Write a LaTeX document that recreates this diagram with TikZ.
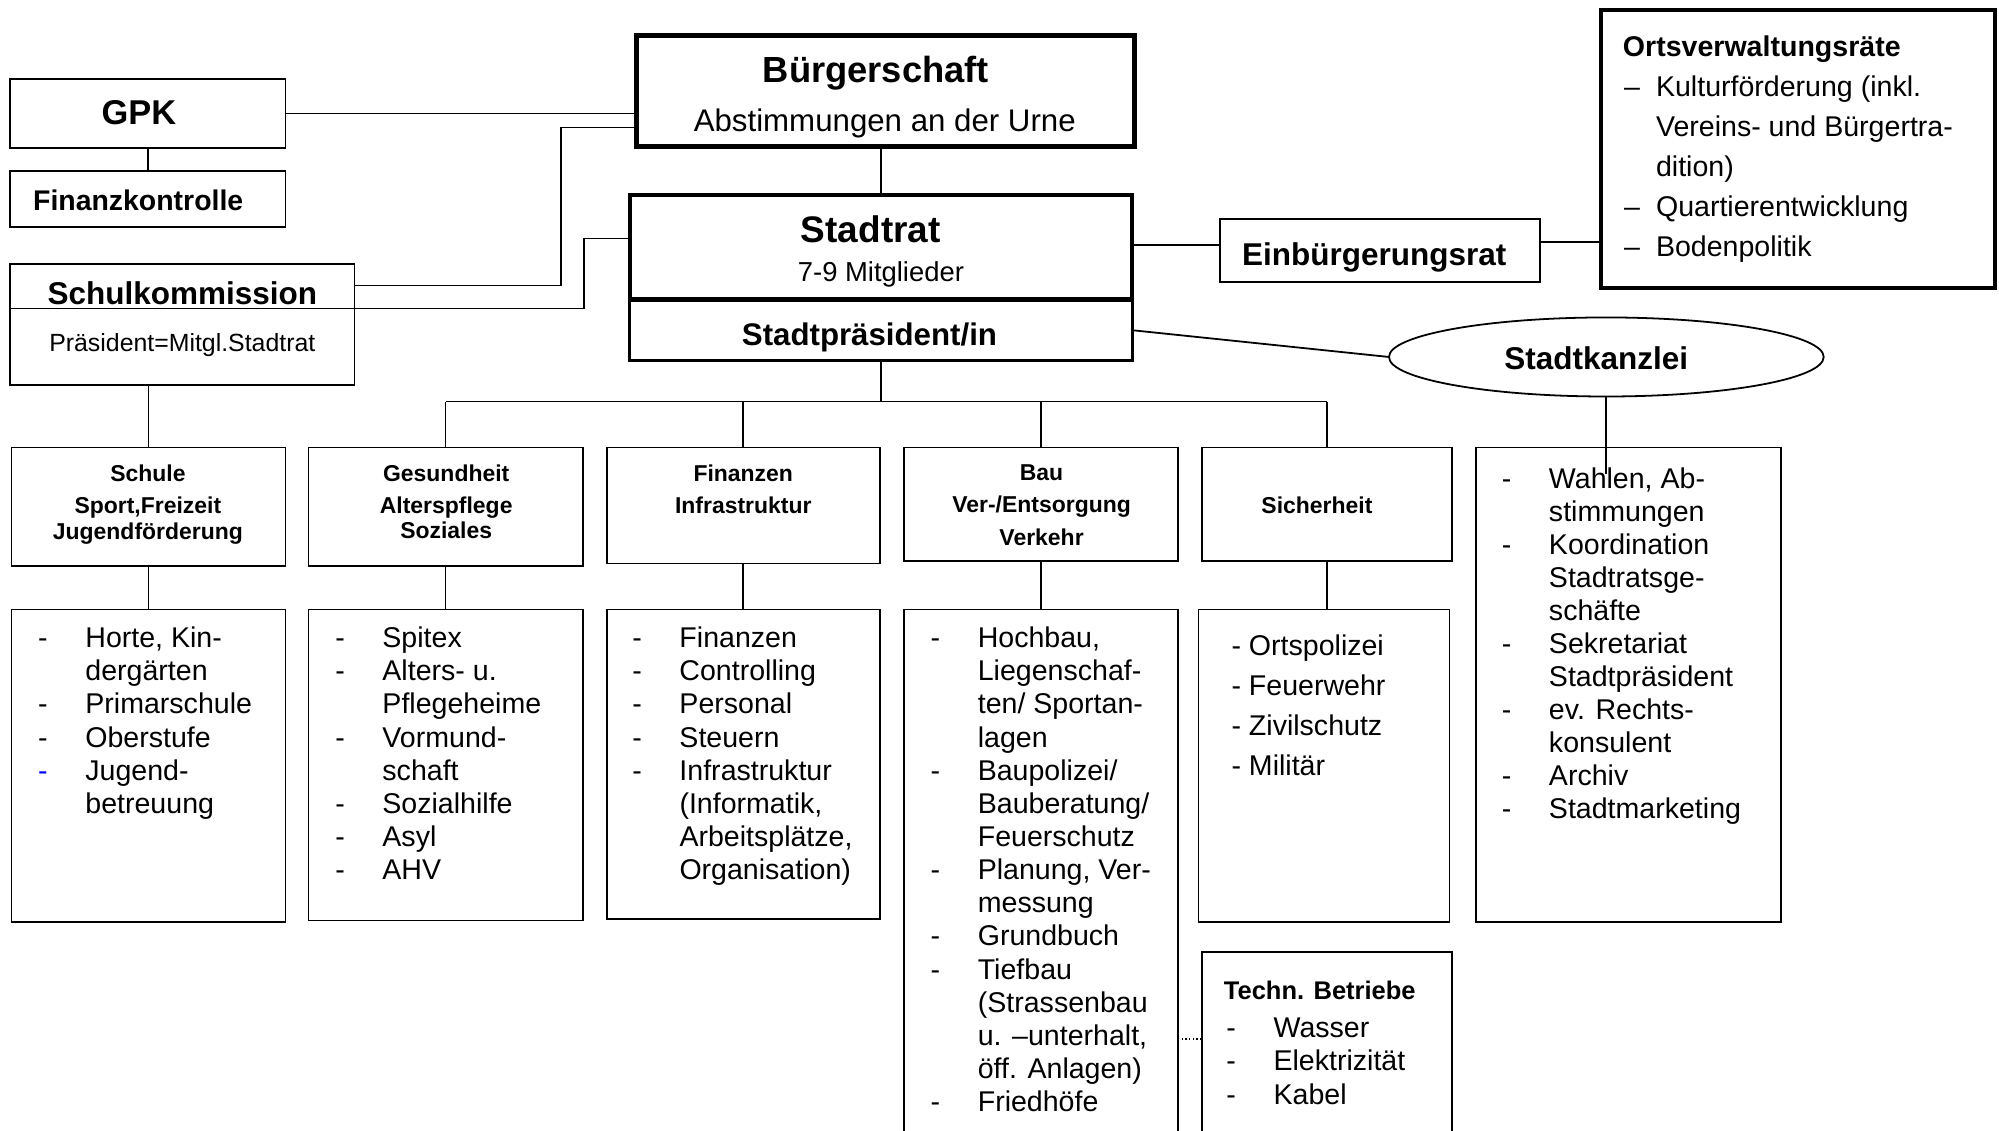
\documentclass[tikz,border=0pt]{standalone}
\usepackage{fontspec}
\setmainfont{Liberation Sans}
\usetikzlibrary{shapes.geometric}
\newcommand\fs[2]{\fontsize{#1}{#2}\selectfont}
\newcommand\mybox[6][]{\node[boxst,minimum width={#5-#3},minimum height={#6-#4},#1] (#2) at ({(#3+#5)/2},{(#4+#6)/2}) {};}
\newcommand\dl[1]{\begin{tabular}[t]{@{}p{37pt}@{}l@{}}#1\end{tabular}}
\newcommand\ol[1]{\begin{tabular}[t]{@{}p{25pt}@{}l@{}}#1\end{tabular}}
\newcommand\hd[1]{\begin{tabular}[t]{@{}c@{}}#1\end{tabular}}
\begin{document}
\begin{tikzpicture}[x=1pt,y=-1pt,line width=1.4pt,
  boxst/.style={draw,inner sep=0pt,outer sep=0pt,line width=1.4pt},
  txt/.style={inner sep=0pt,outer sep=0pt},
  conn/.style={line width=1.4pt}]
\useasboundingbox (0,0) rectangle (1568,887);
\clip (0,0) rectangle (1568,887);
% boxes
\mybox[line width=2.2pt]{sp}{494}{235}{888}{283}
\mybox[line width=3.6pt]{st}{494}{153}{888}{235}
\mybox[line width=3.7pt]{bg}{499}{28}{890}{115}
\mybox{gpk}{8}{62}{224}{116}
\mybox{fk}{8}{134}{224}{178}
\mybox{sk}{8}{207}{278}{302}
\mybox{er}{957}{172}{1208}{221}
\mybox[line width=3pt]{ov}{1256}{8}{1565}{226}
\node[draw,ellipse,inner sep=0pt,outer sep=0pt,line width=1.4pt,minimum width=341,minimum height=62] (kz) at (1260,280) {};
\mybox{schule}{9}{351}{224}{444}
\mybox{ges}{242}{351}{457}{444}
\mybox{fin}{476}{351}{690}{442}
\mybox{bau}{709}{351}{924}{440}
\mybox{sich}{943}{351}{1139}{440}
\mybox{schl}{9}{478}{224}{723}
\mybox{gesl}{242}{478}{457}{722}
\mybox{finl}{476}{478}{690}{721}
\mybox{baul}{709}{478}{924}{900}
\mybox{sichl}{940}{478}{1137}{723}
\mybox{tb}{943}{747}{1139}{900}
\mybox{kzl}{1158}{351}{1397}{723}
% junction coordinates
\coordinate (j1) at (440,224);
\coordinate (j2) at (440,100);
\coordinate (j3) at (458,242);
\coordinate (j4) at (458,187);
\coordinate (bus) at (691,315);
% connectors
\draw[conn] (gpk.east) -- (gpk.east -| bg.west);
\draw[conn] (gpk.south) -- (fk.north);
\draw[conn] (sk.east |- j1) -- (j1) -- (j2) -- (bg.west |- j2);
\draw[conn] (sk.west |- j3) -- (j3) -- (j4) -- (st.west |- j4);
\draw[conn] (bg.south -| st.north) -- (st.north);
\draw[conn] (st.east |- 0,192) -- (er.west |- 0,192);
\draw[conn] (er.east |- 0,190) -- (ov.west |- 0,190);
\draw[conn] (sp.east) -- (kz.west);
\draw[conn] (kz.south) -- (kz.south |- 0,372);
\draw[conn] (sp.south) -- (bus);
\draw[conn] (ges.north |- bus) -- (sich.north |- bus);
\foreach \n in {ges,fin,bau,sich}{\draw[conn] (\n.north) -- (\n.north |- bus);}
\draw[conn] (schule.north) -- (schule.north |- sk.south);
\draw[conn] (schule.south) -- (schule.south |- schl.north);
\draw[conn] (ges.south) -- (ges.south |- gesl.north);
\draw[conn] (fin.south) -- (fin.south |- finl.north);
\draw[conn] (bau.south) -- (bau.south |- baul.north);
\draw[conn] (sich.south) -- (sich.south |- sichl.north);
\draw[dotted,line width=0.9pt] (baul.east |- 0,815) -- (tb.west |- 0,815);
% texts top
\node[txt,anchor=base,font=\fs{28.5}{30}\bfseries] (bgt) at (687,65) {Bürgerschaft};
\node[txt,anchor=base,font=\fs{24.5}{26}] (bgs) at (694,103) {Abstimmungen an der Urne};
\node[txt,anchor=base,font=\fs{27}{28}\bfseries] (gpkt) at (109,98) {GPK};
\node[txt,anchor=base west,font=\fs{22.3}{24}\bfseries] (fkt) at (26,165) {Finanzkontrolle};
\node[txt,anchor=base,font=\fs{24.7}{26}\bfseries] (skt) at (143,239) {Schulkommission};
\node[txt,anchor=base,font=\fs{19.5}{22}] (sks) at (143,276) {Präsident=Mitgl.Stadtrat};
\node[txt,anchor=base,font=\fs{29}{30}\bfseries] (stt) at (683,190) {Stadtrat};
\node[txt,anchor=base,font=\fs{21.5}{24}] (sts) at (691,221) {7-9 Mitglieder};
\node[txt,anchor=base,font=\fs{24.5}{26}\bfseries] (spt) at (682,271) {Stadtpräsident/in};
\node[txt,anchor=base,font=\fs{24.7}{26}\bfseries] (ert) at (1078,208) {Einbürgerungsrat};
\node[txt,anchor=base west,font=\fs{22.4}{24}\bfseries] (ovt) at (1273,44) {Ortsverwaltungsräte};
\node[txt,anchor=base west,font=\fs{22.4}{31.25}] (ovl) at (1274,76) {\ol{–&Kulturförderung (inkl.\\&Vereins- und Bürgertra-\\&dition)\\–&Quartierentwicklung\\–&Bodenpolitik}};
\node[txt,anchor=base,font=\fs{24.7}{26}\bfseries] (kzt) at (1252,290) {Stadtkanzlei};
% department headings
\node[txt,anchor=base,font=\fs{18}{25}\bfseries] (schulet) at (116,377.5) {\hd{Schule\\Sport,Freizeit\\[-4pt]Jugendförderung}};
\node[txt,anchor=base,font=\fs{18}{25}\bfseries] (gest) at (350,377.5) {\hd{Gesundheit\\Alterspflege\\[-5pt]Soziales}};
\node[txt,anchor=base,font=\fs{18}{25}\bfseries] (fint) at (583,377.5) {\hd{Finanzen\\Infrastruktur}};
\node[txt,anchor=base,font=\fs{18}{25.5}\bfseries] (baut) at (817,376.5) {\hd{Bau\\Ver-/Entsorgung\\Verkehr}};
\node[txt,anchor=base,font=\fs{18}{25}\bfseries] (sicht) at (1033,402.5) {Sicherheit};
% lists
\node[txt,anchor=base west,font=\fs{22.4}{26}] (schlt) at (30,508) {\dl{-&Horte, Kin-\\&dergärten\\-&Primarschule\\-&Oberstufe\\\textcolor{blue}{-}&Jugend-\\&betreuung}};
\node[txt,anchor=base west,font=\fs{22.4}{26}] (geslt) at (263,508) {\dl{-&Spitex\\-&Alters- u.\\&Pflegeheime\\-&Vormund-\\&schaft\\-&Sozialhilfe\\-&Asyl\\-&AHV}};
\node[txt,anchor=base west,font=\fs{22.4}{26}] (finlt) at (496,508) {\dl{-&Finanzen\\-&Controlling\\-&Personal\\-&Steuern\\-&Infrastruktur\\&(Informatik,\\&Arbeitsplätze,\\&Organisation)}};
\node[txt,anchor=base west,font=\fs{22.4}{26}] (bault) at (730,508) {\dl{-&Hochbau,\\&Liegenschaf-\\&ten/ Sportan-\\&lagen\\-&Baupolizei/\\&Bauberatung/\\&Feuerschutz\\-&Planung, Ver-\\&messung\\-&Grundbuch\\-&Tiefbau\\&(Strassenbau\\&u. –unterhalt,\\&öff. Anlagen)\\-&Friedhöfe}};
\node[txt,anchor=base west,font=\fs{22.4}{31.3},align=left] (sichlt) at (966,514) {\begin{tabular}[t]{@{}l@{}}- Ortspolizei\\- Feuerwehr\\- Zivilschutz\\- Militär\end{tabular}};
\node[txt,anchor=base west,font=\fs{20}{24}\bfseries] (tbt) at (960,784) {Techn. Betriebe};
\node[txt,anchor=base west,font=\fs{22.4}{26}] (tblt) at (962,814) {\dl{-&Wasser\\-&Elektrizität\\-&Kabel}};
\node[txt,anchor=base west,font=\fs{22.4}{25.9}] (kzlt) at (1178,383) {\dl{-&Wahlen, Ab-\\&stimmungen\\-&Koordination\\&Stadtratsge-\\&schäfte\\-&Sekretariat\\&Stadtpräsident\\-&ev. Rechts-\\&konsulent\\-&Archiv\\-&Stadtmarketing}};
\end{tikzpicture}
\end{document}
